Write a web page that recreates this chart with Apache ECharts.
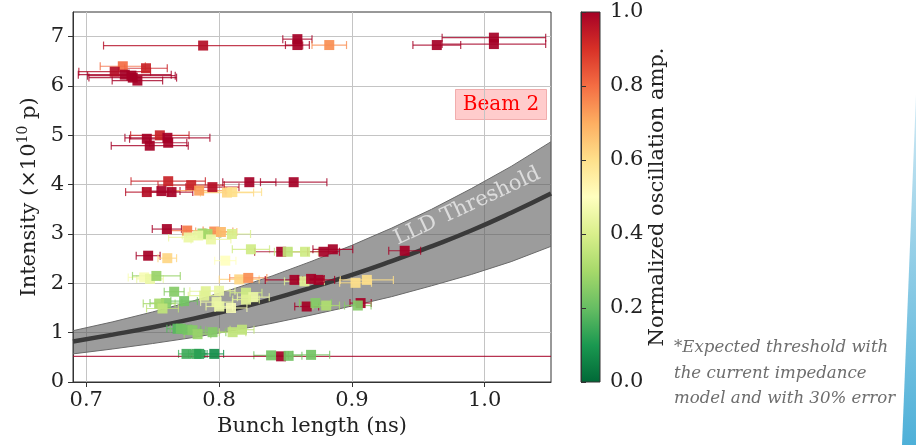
<!DOCTYPE html>
<html>
<head>
<meta charset="utf-8">
<title>Beam 2 - LLD threshold</title>
<script src="https://cdn.jsdelivr.net/npm/echarts@6/dist/echarts.min.js"></script>
<style>
html, body { margin: 0; padding: 0; background: #fff; }
#chart { width: 916px; height: 445px; }
</style>
</head>
<body>
<div id="chart"></div>
<script>
// measured bunches
var bunchLength = [
    0.788, 0.859, 0.859, 0.883, 0.964, 1.007, 1.007,
    0.7275, 0.745, 0.7214, 0.729, 0.734, 0.735, 0.7385,
    0.7554, 0.7456, 0.7611, 0.7617, 0.7478,
    0.7617, 0.779, 0.795, 0.8228, 0.8562, 0.7456, 0.7566, 0.7642, 0.785, 0.806, 0.81,
    0.7607, 0.776, 0.7964, 0.8014, 0.7875, 0.7913, 0.777, 0.7843, 0.7939, 0.8097,
    0.7466, 0.761, 0.8047, 0.824, 0.8468, 0.8517, 0.8648, 0.8787, 0.8857, 0.9398,
    0.7436, 0.748, 0.7528, 0.8152, 0.822, 0.8568, 0.8643, 0.8693, 0.875, 0.9028, 0.9113,
    0.7662, 0.76, 0.7549, 0.7737, 0.7574, 0.790, 0.800, 0.7888, 0.7981, 0.8002, 0.809,
    0.8203, 0.8258, 0.8203, 0.866, 0.8726, 0.8807, 0.9066, 0.9045,
    0.7687, 0.7712, 0.7762, 0.780, 0.7838, 0.7951, 0.8102, 0.8173,
    0.7755, 0.783, 0.785, 0.7964, 0.8392, 0.8467, 0.8524, 0.8693
];
var bunchLengthErr = [
    0.075, 0.011, 0.009, 0.013, 0.018, 0.039, 0.039,
    0.017, 0.016, 0.027, 0.035, 0.033, 0.033, 0.019,
    0.022, 0.013, 0.032, 0.014, 0.029,
    0.028, 0.025, 0.020, 0.020, 0.025, 0.016, 0.014, 0.016, 0.020, 0.020, 0.022,
    0.011, 0.012, 0.014, 0.012, 0.012, 0.010, 0.015, 0.012, 0.015, 0.014,
    0.009, 0.007, 0.008, 0.014, 0.020, 0.010, 0.010, 0.012, 0.015, 0.012,
    0.012, 0.010, 0.018, 0.015, 0.014, 0.022, 0.015, 0.010, 0.012, 0.012, 0.020,
    0.0075, 0.012, 0.012, 0.010, 0.012, 0.012, 0.012, 0.012, 0.012, 0.010, 0.012,
    0.012, 0.012, 0.010, 0.009, 0.012, 0.010, 0.008, 0.010,
    0.008, 0.008, 0.010, 0.010, 0.010, 0.010, 0.010, 0.009,
    0.006, 0.006, 0.006, 0.007, 0.013, 0.400, 0.010, 0.014
];
var intensity = [
    6.82, 6.95, 6.83, 6.83, 6.83, 6.98, 6.85,
    6.40, 6.36, 6.29, 6.23, 6.21, 6.17, 6.11,
    5.00, 4.93, 4.95, 4.85, 4.79,
    4.07, 3.99, 3.95, 4.05, 4.05, 3.85, 3.87, 3.85, 3.88, 3.84, 3.85,
    3.10, 3.07, 3.05, 3.04, 3.01, 3.00, 2.93, 2.97, 2.89, 3.00,
    2.56, 2.51, 2.46, 2.69, 2.64, 2.64, 2.64, 2.64, 2.69, 2.66,
    2.12, 2.09, 2.15, 2.08, 2.11, 2.07, 2.04, 2.09, 2.07, 2.01, 2.07,
    1.83, 1.60, 1.59, 1.64, 1.49, 1.84, 1.85, 1.75, 1.62, 1.53, 1.50,
    1.81, 1.72, 1.67, 1.53, 1.60, 1.55, 1.60, 1.55,
    1.08, 1.08, 1.06, 1.05, 0.97, 1.01, 1.01, 1.06,
    0.57, 0.57, 0.57, 0.57, 0.54, 0.52, 0.53, 0.55
];
var oscAmp = [
    0.97, 1.0, 1.0, 0.75, 1.0, 1.0, 1.0,
    0.80, 0.93, 0.97, 1.0, 1.0, 1.0, 1.0,
    0.93, 1.0, 1.0, 1.0, 1.0,
    0.93, 0.93, 0.97, 1.0, 1.0, 0.97, 1.0, 1.0, 0.72, 0.62, 0.60,
    1.0, 0.78, 0.75, 0.68, 0.28, 0.30, 0.45, 0.45, 0.45, 0.40,
    1.0, 0.62, 0.50, 0.38, 1.0, 0.35, 0.38, 1.0, 1.0, 1.0,
    0.48, 0.45, 0.28, 0.62, 0.75, 1.0, 0.42, 1.0, 1.0, 0.60, 0.60,
    0.25, 0.25, 0.30, 0.22, 0.35, 0.42, 0.45, 0.42, 0.45, 0.45, 0.48,
    0.38, 0.45, 0.42, 1.0, 0.25, 0.32, 1.0, 0.25,
    0.18, 0.22, 0.22, 0.25, 0.28, 0.25, 0.35, 0.35,
    0.15, 0.15, 0.12, 0.08, 0.22, 1.0, 0.22, 0.22
];

// LLD threshold (current impedance model) and the 30% band
var thrLength = [0.69, 0.72, 0.75, 0.78, 0.81, 0.84, 0.87, 0.90, 0.93, 0.96, 0.99, 1.02, 1.05];
var thrMid  = [0.82, 0.96, 1.11, 1.28, 1.47, 1.68, 1.92, 2.17, 2.45, 2.75, 3.07, 3.43, 3.82];
var thrHigh = [1.04, 1.22, 1.42, 1.64, 1.88, 2.15, 2.45, 2.77, 3.12, 3.50, 3.92, 4.37, 4.87];
var thrLow  = [0.57, 0.67, 0.78, 0.90, 1.04, 1.19, 1.36, 1.54, 1.73, 1.95, 2.18, 2.44, 2.75];

var xTicks = [0.7, 0.8, 0.9, 1.0];
var yTicks = [0, 1, 2, 3, 4, 5, 6, 7];
// RdYlGn reversed, 0 -> green, 1 -> red
var ampColors = ['#006837', '#1a9850', '#66bd63', '#a6d96a', '#d9ef8b', '#ffffbf',
                 '#fee08b', '#fdae61', '#f46d43', '#d73027', '#a50026'];

var serif = 'DejaVu Serif';
var fs = 21;

var pointData = [];
for (var i = 0; i < bunchLength.length; i++) {
    pointData.push([bunchLength[i], intensity[i], bunchLengthErr[i], oscAmp[i]]);
}
var bandData = [];
var midData = [];
for (var j = 0; j < thrLength.length; j++) {
    bandData.push([thrLength[j], thrLow[j], thrHigh[j]]);
    midData.push([thrLength[j], thrMid[j]]);
}

// gray band between low and high threshold, drawn once as one polygon
function renderBand(params, api) {
    if (params.dataIndex !== 0) {
        return null;
    }
    var top = [], bottom = [];
    for (var k = 0; k < bandData.length; k++) {
        top.push(api.coord([bandData[k][0], bandData[k][2]]));
        bottom.unshift(api.coord([bandData[k][0], bandData[k][1]]));
    }
    return {
        type: 'group',
        children: [
            { type: 'polygon', shape: { points: top.concat(bottom) }, style: { fill: 'rgba(90,90,90,0.6)' } },
            { type: 'polyline', shape: { points: top }, style: { stroke: '#6a6a6a', lineWidth: 1, fill: null } },
            { type: 'polyline', shape: { points: bottom }, style: { stroke: '#6a6a6a', lineWidth: 1, fill: null } }
        ]
    };
}

// horizontal error bar with caps
function renderErrorBar(params, api) {
    var y = api.value(1);
    var lo = api.coord([api.value(0) - api.value(2), y]);
    var hi = api.coord([api.value(0) + api.value(2), y]);
    var st = { stroke: api.visual('color'), lineWidth: 1.2, opacity: 0.8 };
    var h = 4;
    return {
        type: 'group',
        children: [
            { type: 'line', shape: { x1: lo[0], y1: lo[1], x2: hi[0], y2: hi[1] }, style: st },
            { type: 'line', shape: { x1: lo[0], y1: lo[1] - h, x2: lo[0], y2: lo[1] + h }, style: st },
            { type: 'line', shape: { x1: hi[0], y1: hi[1] - h, x2: hi[0], y2: hi[1] + h }, style: st }
        ]
    };
}

var myChart = echarts.init(document.getElementById('chart'));

var option = {
    animation: false,
    grid: [
        { left: 73, top: 12, width: 478, height: 370, show: true, borderColor: '#333', borderWidth: 1 },
        {
            left: 581, top: 12, width: 19, height: 370, show: true, borderColor: '#333', borderWidth: 1,
            backgroundColor: {
                type: 'linear', x: 0, y: 0, x2: 0, y2: 1,
                colorStops: ampColors.slice().reverse().map(function (c, n) {
                    return { offset: n / (ampColors.length - 1), color: c };
                })
            }
        }
    ],
    xAxis: [{
        gridIndex: 0,
        type: 'value',
        min: 0.69,
        max: 1.05,
        name: 'Bunch length (ns)',
        nameLocation: 'middle',
        nameGap: 33,
        nameTextStyle: { fontFamily: serif, fontSize: fs, color: '#222' },
        axisLine: { show: true, onZero: false, lineStyle: { color: '#333' } },
        axisTick: { show: true, length: 5, customValues: xTicks, lineStyle: { color: '#333' } },
        axisLabel: {
            customValues: xTicks, margin: 8, fontFamily: serif, fontSize: fs, color: '#222',
            formatter: function (v) { return v.toFixed(1); }
        },
        splitLine: { show: true, lineStyle: { color: '#c4c4c4' } }
    }, {
        gridIndex: 1,
        type: 'value',
        show: false
    }],
    yAxis: [{
        gridIndex: 0,
        type: 'value',
        min: 0,
        max: 7.5,
        name: '{a|Intensity (×10}{s|10}{a| p)}',
        nameLocation: 'middle',
        nameGap: 30,
        nameTextStyle: {
            color: '#222',
            rich: {
                a: { fontFamily: serif, fontSize: fs, color: '#222' },
                s: { fontFamily: serif, fontSize: 14, color: '#222', padding: [0, 0, 11, 0] }
            }
        },
        axisLine: { show: true, onZero: false, lineStyle: { color: '#333' } },
        axisTick: { show: true, length: 5, customValues: yTicks, lineStyle: { color: '#333' } },
        axisLabel: { customValues: yTicks, margin: 9, fontFamily: serif, fontSize: fs, color: '#222' },
        splitLine: { show: true, lineStyle: { color: '#c4c4c4' } }
    }, {
        gridIndex: 1,
        type: 'value',
        position: 'right',
        min: 0,
        max: 1,
        interval: 0.2,
        name: 'Normalized oscillation amp.',
        nameLocation: 'middle',
        nameRotate: 90,
        nameGap: 45,
        nameTextStyle: { fontFamily: serif, fontSize: fs, color: '#222' },
        axisLine: { show: true, lineStyle: { color: '#333' } },
        axisTick: { show: true, length: 5, lineStyle: { color: '#333' } },
        axisLabel: {
            margin: 10, fontFamily: serif, fontSize: fs, color: '#222',
            formatter: function (v) { return v.toFixed(1); }
        },
        splitLine: { show: false }
    }],
    visualMap: {
        type: 'continuous',
        show: false,
        min: 0,
        max: 1,
        dimension: 3,
        seriesIndex: [2, 3],
        inRange: { color: ampColors }
    },
    series: [{
        // threshold band
        type: 'custom',
        xAxisIndex: 0,
        yAxisIndex: 0,
        renderItem: renderBand,
        data: bandData,
        encode: { x: 0, y: [1, 2] },
        clip: true,
        silent: true,
        z: 1
    }, {
        // threshold line
        type: 'line',
        data: midData,
        smooth: true,
        symbol: 'none',
        lineStyle: { color: '#3a3a3a', width: 4.5 },
        silent: true,
        z: 2
    }, {
        type: 'custom',
        renderItem: renderErrorBar,
        data: pointData,
        encode: { x: 0, y: 1 },
        clip: true,
        z: 3
    }, {
        type: 'scatter',
        data: pointData,
        encode: { x: 0, y: 1 },
        symbol: 'rect',
        symbolSize: 10,
        itemStyle: { opacity: 0.92 },
        z: 4
    }, {
        // curve label
        type: 'scatter',
        data: [[0.987, 3.56]],
        symbolSize: 0,
        silent: true,
        label: {
            show: true,
            position: 'inside',
            formatter: 'LLD Threshold',
            rotate: 25,
            fontFamily: serif,
            fontSize: fs,
            color: '#eeeeee'
        },
        z: 5
    }],
    graphic: [{
        type: 'group',
        left: 455,
        top: 89,
        children: [{
            type: 'rect',
            shape: { x: 0, y: 0, width: 91, height: 30 },
            style: { fill: 'rgba(255,0,0,0.2)', stroke: 'rgba(200,0,0,0.25)', lineWidth: 1 }
        }, {
            type: 'text',
            x: 45.5,
            y: 15,
            style: {
                text: 'Beam 2', fill: '#ff0000', font: '20px "DejaVu Serif"',
                align: 'center', verticalAlign: 'middle'
            }
        }]
    }, {
        type: 'text',
        left: 674,
        top: 335,
        style: {
            text: '*Expected threshold with\nthe current impedance\nmodel and with 30% error',
            fill: '#6d6d6d',
            font: 'italic 16.6px "DejaVu Serif"',
            lineHeight: 25.5
        }
    }, {
        type: 'polygon',
        shape: { points: [[916, 95], [916, 445], [902, 445]] },
        style: {
            fill: {
                type: 'linear', x: 0, y: 0, x2: 0, y2: 1,
                colorStops: [{ offset: 0, color: '#cfe9f4' }, { offset: 1, color: '#4eb0d8' }]
            }
        }
    }]
};

myChart.setOption(option);
</script>
</body>
</html>
